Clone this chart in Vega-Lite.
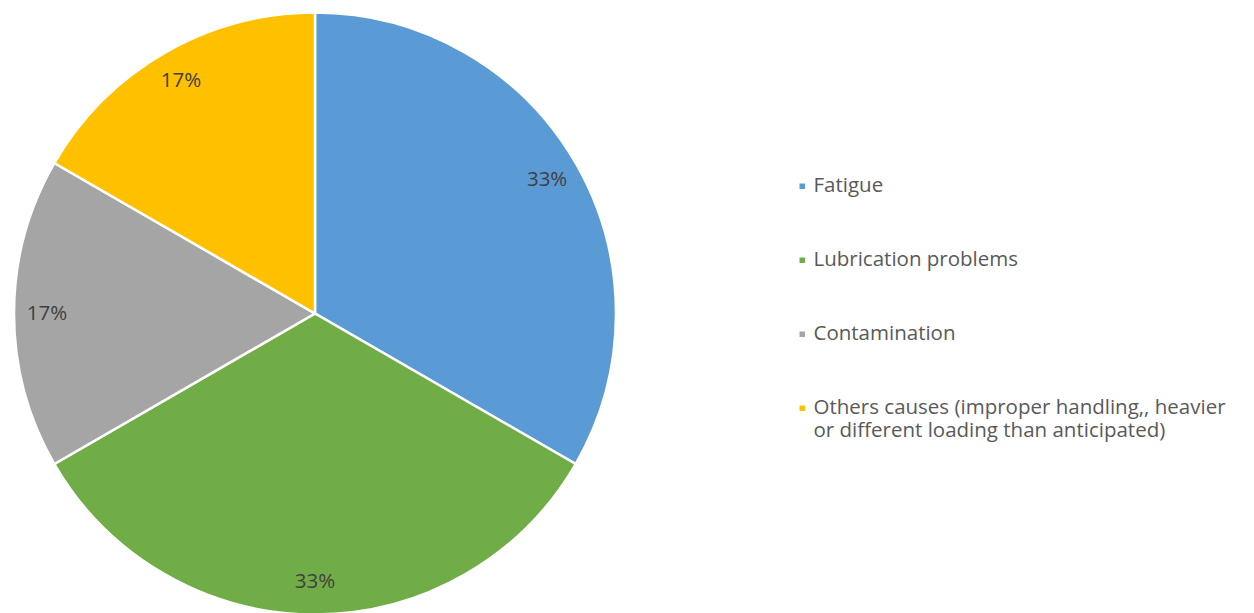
{
  "$schema": "https://vega.github.io/schema/vega-lite/v6.json",
  "width": 630,
  "height": 613,
  "padding": {"left": 0, "top": 7, "right": 624, "bottom": 0},
  "autosize": "none",
  "background": "white",
  "data": {
    "values": [
      {"cause": "Fatigue", "value": 2, "pct": "33%", "ord": 1},
      {"cause": "Lubrication problems", "value": 2, "pct": "33%", "ord": 2},
      {"cause": "Contamination", "value": 1, "pct": "17%", "ord": 3},
      {"cause": "Others causes (improper handling,, heavier or different loading than anticipated)", "value": 1, "pct": "17%", "ord": 4}
    ]
  },
  "encoding": {
    "theta": {"field": "value", "type": "quantitative", "stack": true},
    "order": {"field": "ord", "type": "quantitative"}
  },
  "layer": [
    {
      "mark": {"type": "arc", "outerRadius": 301, "stroke": "white", "strokeWidth": 2.5},
      "encoding": {
        "color": {
          "field": "cause",
          "type": "nominal",
          "sort": {"field": "ord"},
          "scale": {
            "domain": ["Fatigue", "Lubrication problems", "Contamination", "Others causes (improper handling,, heavier or different loading than anticipated)"],
            "range": ["#5B9BD5", "#70AD47", "#A5A5A5", "#FFC000"]
          },
          "legend": {
            "title": null,
            "orient": "none",
            "legendX": 792,
            "legendY": 169,
            "symbolType": "square",
            "symbolSize": 30,
            "symbolStrokeWidth": 0,
            "labelFont": "Open Sans",
            "labelFontSize": 20.5,
            "labelColor": "#595959",
            "labelLimit": 600,
            "labelOffset": 1,
            "rowPadding": 53,
            "labelExpr": "indexof(datum.label, 'Others') == 0 ? ['Others causes (improper handling,, heavier', 'or different loading than anticipated)'] : datum.label"
          }
        }
      }
    },
    {
      "mark": {"type": "text", "radius": 268, "font": "Open Sans", "fontSize": 20.5, "color": "#404040"},
      "encoding": {
        "text": {"field": "pct", "type": "nominal"}
      }
    }
  ]
}
